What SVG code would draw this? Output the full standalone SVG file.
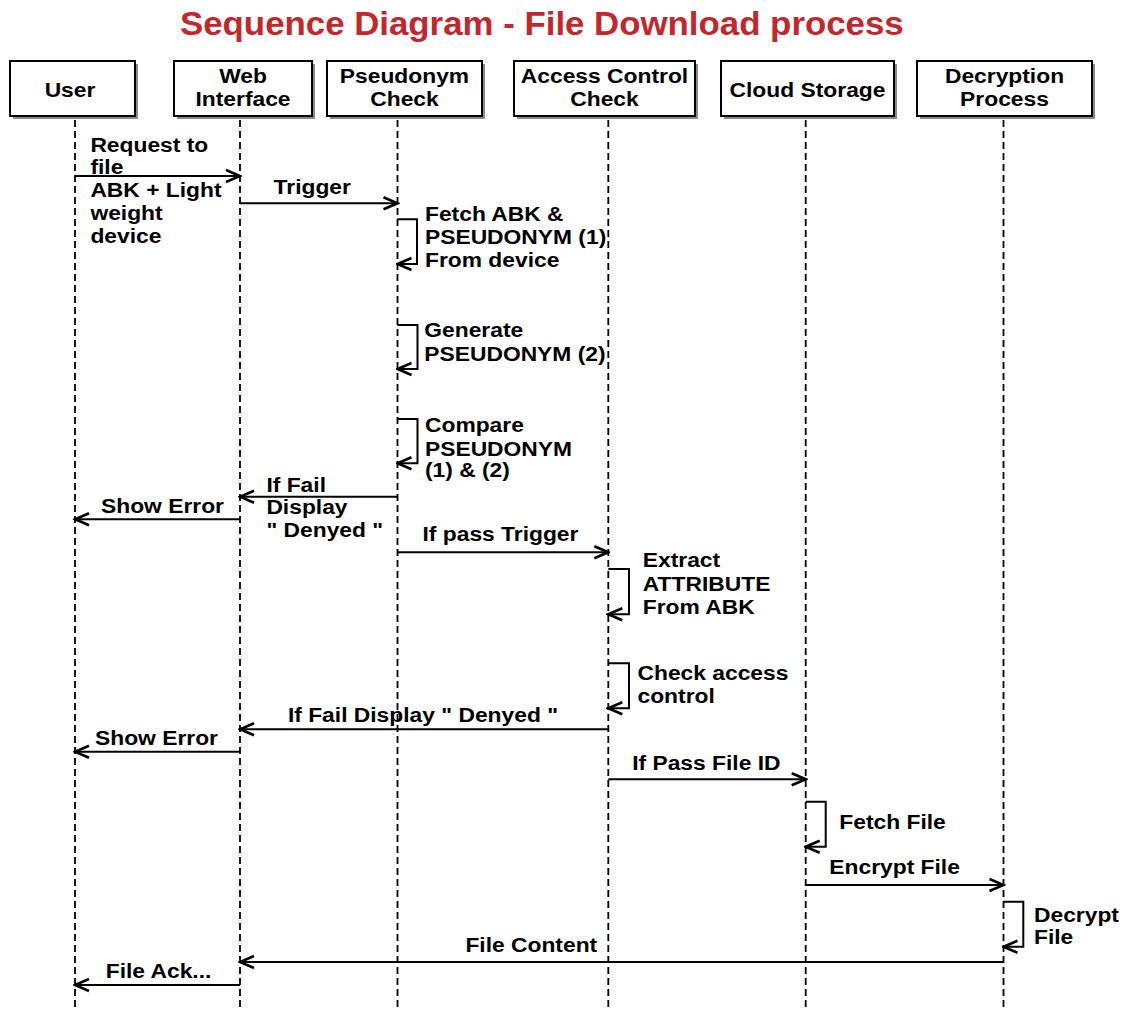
<svg xmlns="http://www.w3.org/2000/svg" width="1133" height="1010" viewBox="0 0 1133 1010">
<style>
.t{font-family:"Liberation Sans",Arial,Helvetica,sans-serif;font-weight:bold;font-size:19.5px;fill:#000}
.c{text-anchor:middle}
.ttl{font-family:"Liberation Sans",Arial,Helvetica,sans-serif;font-weight:bold;font-size:33.5px;fill:#C1272D}
.box{fill:#fff;stroke:#000;stroke-width:2}
.sh{fill:#8a8a8a}
.life{stroke:#000;stroke-width:1.8;stroke-dasharray:7 4;fill:none}
.msg{stroke:#000;stroke-width:2;fill:none;marker-end:url(#ah)}
</style>
<defs>
<marker id="ah" markerUnits="userSpaceOnUse" viewBox="-16 -8 18 16" refX="0" refY="0" markerWidth="18" markerHeight="16" orient="auto">
<path d="M-14,-6 L0,0 L-14,6" fill="none" stroke="#000" stroke-width="2.6"/>
</marker>
</defs>
<rect width="1133" height="1010" fill="#fff"/>
<text class="ttl" transform="matrix(1.04 0 0 1 180 35)">Sequence Diagram - File Download process</text>

<g id="user">
<rect class="sh" x="13" y="64" width="125" height="55"/>
<rect class="box" x="10" y="61" width="125" height="55"/>
<text class="t c" transform="matrix(1.17 0 0 1 70 96.5)">User</text>
<line class="life" x1="75" y1="120" x2="75" y2="1008"/>
</g>
<g id="web">
<rect class="sh" x="177" y="64" width="138" height="55"/>
<rect class="box" x="174" y="61" width="138" height="55"/>
<text class="t c" transform="matrix(1.17 0 0 1 243 0)"><tspan x="0" y="83">Web</tspan><tspan x="0" y="106">Interface</tspan></text>
<line class="life" x1="240" y1="120" x2="240" y2="1008"/>
</g>
<g id="pseudonym">
<rect class="sh" x="330" y="64" width="155" height="55"/>
<rect class="box" x="327" y="61" width="155" height="55"/>
<text class="t c" transform="matrix(1.17 0 0 1 404.5 0)"><tspan x="0" y="83">Pseudonym</tspan><tspan x="0" y="106">Check</tspan></text>
<line class="life" x1="397.5" y1="120" x2="397.5" y2="1008"/>
</g>
<g id="access">
<rect class="sh" x="517" y="64" width="181" height="55"/>
<rect class="box" x="514" y="61" width="181" height="55"/>
<text class="t c" transform="matrix(1.17 0 0 1 604.5 0)"><tspan x="0" y="83">Access Control</tspan><tspan x="0" y="106">Check</tspan></text>
<line class="life" x1="608.3" y1="120" x2="608.3" y2="1008"/>
</g>
<g id="cloud">
<rect class="sh" x="724" y="64" width="173" height="55"/>
<rect class="box" x="721" y="61" width="173" height="55"/>
<text class="t c" transform="matrix(1.17 0 0 1 807.5 96.5)">Cloud Storage</text>
<line class="life" x1="805.7" y1="120" x2="805.7" y2="1008"/>
</g>
<g id="decryption">
<rect class="sh" x="920" y="64" width="175" height="55"/>
<rect class="box" x="917" y="61" width="175" height="55"/>
<text class="t c" transform="matrix(1.17 0 0 1 1004.5 0)"><tspan x="0" y="83">Decryption</tspan><tspan x="0" y="106">Process</tspan></text>
<line class="life" x1="1003.5" y1="120" x2="1003.5" y2="1008"/>
</g>

<g id="connectors">
<path class="msg" d="M75,176 H240"/>
<path class="msg" d="M240,203.3 H397.5"/>
<path class="msg" d="M397.5,219.3 H417 V264 H397.5"/>
<path class="msg" d="M397.5,325 H417.5 V369 H397.5"/>
<path class="msg" d="M397.5,419 H417.5 V463.3 H397.5"/>
<path class="msg" d="M397.5,496.7 H240"/>
<path class="msg" d="M240,519.3 H75"/>
<path class="msg" d="M397.5,552.3 H608.3"/>
<path class="msg" d="M608.3,569 H629 V614.3 H608.3"/>
<path class="msg" d="M608.3,663.3 H629 V708.3 H608.3"/>
<path class="msg" d="M608.3,729.3 H240"/>
<path class="msg" d="M240,751.7 H75"/>
<path class="msg" d="M608.3,779.3 H805.7"/>
<path class="msg" d="M805.7,801.7 H825.7 V846.7 H805.7"/>
<path class="msg" d="M805.7,885 H1003.5"/>
<path class="msg" d="M1003.5,901.7 H1023.3 V946.7 H1003.5"/>
<path class="msg" d="M1003.5,962 H240"/>
<path class="msg" d="M240,985 H75"/>
</g>

<g id="labels">
<text class="t" transform="matrix(1.17 0 0 1 90.4 0)"><tspan x="0" y="151.7">Request to</tspan><tspan x="0" y="174">file</tspan><tspan x="0" y="196.7">ABK + Light</tspan><tspan x="0" y="220">weight</tspan><tspan x="0" y="242.7">device</tspan></text>
<text class="t" transform="matrix(1.17 0 0 1 273.6 194)">Trigger</text>
<text class="t" transform="matrix(1.17 0 0 1 425 0)"><tspan x="0" y="221">Fetch ABK &amp;</tspan><tspan x="0" y="244">PSEUDONYM (1)</tspan><tspan x="0" y="266.7">From device</tspan></text>
<text class="t" transform="matrix(1.17 0 0 1 424.3 0)"><tspan x="0" y="336.7">Generate</tspan><tspan x="0" y="361">PSEUDONYM (2)</tspan></text>
<text class="t" transform="matrix(1.17 0 0 1 425 0)"><tspan x="0" y="432.3">Compare</tspan><tspan x="0" y="456">PSEUDONYM</tspan><tspan x="0" y="477.3">(1) &amp; (2)</tspan></text>
<text class="t" transform="matrix(1.17 0 0 1 266.4 0)"><tspan x="0" y="491.7">If Fail</tspan><tspan x="0" y="514.3">Display</tspan><tspan x="0" y="536.7">" Denyed "</tspan></text>
<text class="t" transform="matrix(1.17 0 0 1 101 513.3)">Show Error</text>
<text class="t" transform="matrix(1.17 0 0 1 422.5 540.7)">If pass Trigger</text>
<text class="t" transform="matrix(1.17 0 0 1 642.8 0)"><tspan x="0" y="567.3">Extract</tspan><tspan x="0" y="590.7">ATTRIBUTE</tspan><tspan x="0" y="614">From ABK</tspan></text>
<text class="t" transform="matrix(1.17 0 0 1 637.5 0)"><tspan x="0" y="680">Check access</tspan><tspan x="0" y="703.3">control</tspan></text>
<text class="t" transform="matrix(1.17 0 0 1 287.9 721.7)">If Fail Display " Denyed "</text>
<text class="t" transform="matrix(1.17 0 0 1 95 745)">Show Error</text>
<text class="t" transform="matrix(1.17 0 0 1 632.2 770)">If Pass File ID</text>
<text class="t" transform="matrix(1.17 0 0 1 839.3 829.3)">Fetch File</text>
<text class="t" transform="matrix(1.17 0 0 1 829.3 874.3)">Encrypt File</text>
<text class="t" transform="matrix(1.17 0 0 1 1034 0)"><tspan x="0" y="922.3">Decrypt</tspan><tspan x="0" y="944">File</tspan></text>
<text class="t" transform="matrix(1.17 0 0 1 465.4 951.7)">File Content</text>
<text class="t" transform="matrix(1.17 0 0 1 105.7 978.3)">File Ack...</text>
</g>
</svg>
